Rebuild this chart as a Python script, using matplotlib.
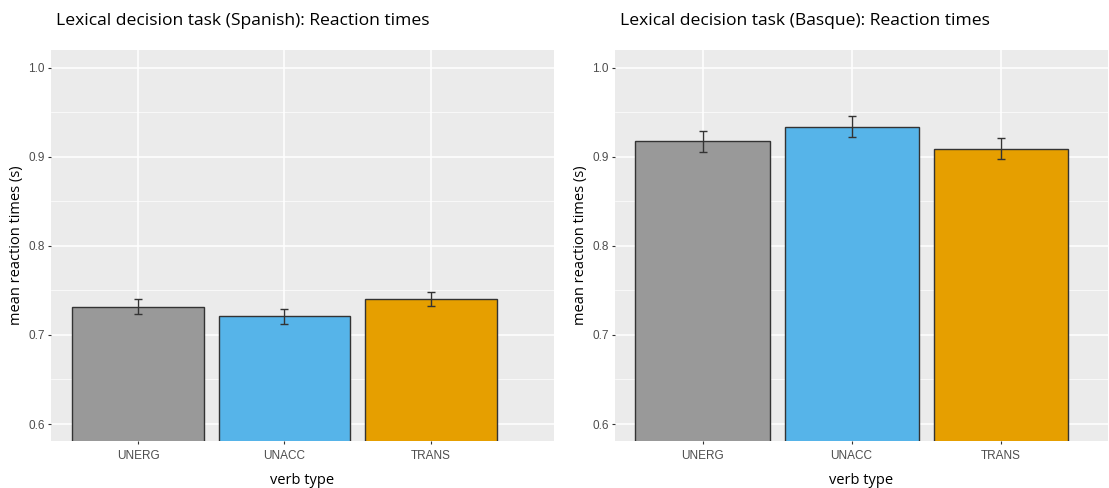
import matplotlib.pyplot as plt
import numpy as np

verb_types = ["UNERG", "UNACC", "TRANS"]
bar_colors = ["#999999", "#56B4E9", "#E69F00"]

spanish_means = [0.732, 0.721, 0.740]
spanish_se = [0.0087, 0.0085, 0.0078]
basque_means = [0.9176, 0.934, 0.9094]
basque_se = [0.0115, 0.0120, 0.0116]

titles = ["Lexical decision task (Spanish): Reaction times",
          "Lexical decision task (Basque): Reaction times"]

W, H = 1109, 488
tick_font = ["Liberation Sans Narrow", "Liberation Sans", "DejaVu Sans"]
text_font = ["Open Sans", "DejaVu Sans"]


def panel(fig, rect, means, se, title, xlim):
    ax = fig.add_axes(rect)
    ax.set_facecolor("#EBEBEB")
    x = np.arange(len(verb_types))
    ax.bar(x, means, width=0.9, color=bar_colors, edgecolor="#333333",
           linewidth=1.0, zorder=3)
    ax.errorbar(x, means, yerr=se, fmt="none", ecolor="#333333",
                elinewidth=1.0, capsize=2.6, capthick=1.0, zorder=4)
    ax.set_ylim(0.5809, 1.0202)
    ax.set_xlim(*xlim)
    ax.set_yticks([0.6, 0.7, 0.8, 0.9, 1.0])
    ax.set_yticks([0.65, 0.75, 0.85, 0.95], minor=True)
    ax.set_xticks(x)
    ax.set_xticklabels(verb_types, family=tick_font, fontsize=8.5, color="#4D4D4D")
    ax.set_yticklabels(["0.6", "0.7", "0.8", "0.9", "1.0"], family=tick_font,
                       fontsize=8.5, color="#4D4D4D")
    ax.grid(True, which="major", color="white", linewidth=1.1, zorder=0)
    ax.grid(True, which="minor", axis="y", color="white", linewidth=0.5, zorder=0)
    ax.set_axisbelow(True)
    ax.tick_params(which="major", length=2.5, width=0.8, color="#333333", pad=2)
    ax.tick_params(axis="x", which="major", pad=4)
    ax.tick_params(which="minor", length=0)
    for s in ax.spines.values():
        s.set_visible(False)
    ax.set_xlabel("verb type", family=text_font, fontsize=10.5, labelpad=8)
    ax.set_ylabel("mean reaction times (s)", family=text_font, fontsize=10.5,
                  labelpad=3)
    ax.set_title(title, family=text_font, fontsize=12.6, loc="left",
                 x=0.01, pad=18)
    return ax


fig = plt.figure(figsize=(W / 100, H / 100), dpi=100)
panel(fig, [51 / W, 47 / H, 503 / W, 391 / H], spanish_means, spanish_se,
      titles[0], (-0.594, 2.84))
panel(fig, [615 / W, 47 / H, 493 / W, 391 / H], basque_means, basque_se,
      titles[1], (-0.587, 2.72))
fig.savefig("out.png", dpi=100)
